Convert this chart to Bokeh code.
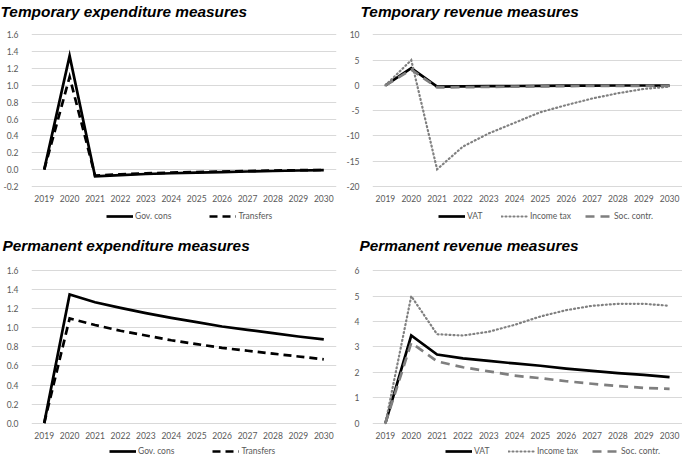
from bokeh.plotting import figure
from bokeh.layouts import gridplot
from bokeh.models import Legend, LegendItem, FixedTicker, NumeralTickFormatter, Range1d
from bokeh.embed import file_html
from bokeh.resources import INLINE

years = [2019, 2020, 2021, 2022, 2023, 2024, 2025, 2026, 2027, 2028, 2029, 2030]

# Temporary expenditure measures
temp_gov_cons = [0.0, 1.35, -0.08, -0.065, -0.052, -0.043, -0.036, -0.03, -0.022, -0.016, -0.01, -0.006]
temp_transfers = [0.0, 1.10, -0.07, -0.055, -0.045, -0.035, -0.028, -0.022, -0.016, -0.011, -0.007, -0.004]

# Temporary revenue measures
temp_vat = [0.0, 3.4, -0.25, -0.2, -0.15, -0.12, -0.08, -0.05, -0.03, -0.02, -0.02, -0.03]
temp_income_tax = [0.0, 5.0, -16.6, -12.1, -9.5, -7.4, -5.3, -3.9, -2.6, -1.55, -0.7, -0.25]
temp_soc_contr = [0.0, 3.1, -0.4, -0.35, -0.3, -0.25, -0.2, -0.15, -0.1, -0.08, -0.08, -0.1]

# Permanent expenditure measures
perm_gov_cons = [0.0, 1.35, 1.27, 1.21, 1.155, 1.105, 1.06, 1.015, 0.98, 0.945, 0.91, 0.88]
perm_transfers = [0.0, 1.10, 1.03, 0.97, 0.92, 0.87, 0.83, 0.79, 0.76, 0.73, 0.70, 0.67]

# Permanent revenue measures
perm_vat = [0.0, 3.45, 2.7, 2.55, 2.45, 2.35, 2.26, 2.15, 2.06, 1.97, 1.9, 1.81]
perm_income_tax = [0.0, 5.0, 3.5, 3.45, 3.6, 3.87, 4.2, 4.45, 4.62, 4.7, 4.7, 4.62]
perm_soc_contr = [0.0, 3.16, 2.43, 2.2, 2.04, 1.87, 1.77, 1.65, 1.55, 1.46, 1.39, 1.35]

titles = ["Temporary expenditure measures", "Temporary revenue measures",
          "Permanent expenditure measures", "Permanent revenue measures"]
exp_labels = ["Gov. cons", "Transfers"]
rev_labels = ["VAT", "Income tax", "Soc. contr."]

W, H = 341, 228
GRAY_TXT = "#595959"
TICK_FONT = "Lato"

STYLES = {
    "solid": dict(line_color="black", line_width=2.7),
    "dash": dict(line_color="black", line_width=2.7, line_dash="8 5"),
    "dot": dict(line_color="#808080", line_width=2.2, line_dash="1 3", line_cap="round"),
    "graydash": dict(line_color="#7f7f7f", line_width=2.7, line_dash="9 6"),
}


def make_panel(title, series, labels, styles, yticks, fmt, top,
               frame_l, frame_r, pix_top, pix_bot, title_x, leg_x, leg_y, leg_spacing):
    vt, vb = yticks[-1], yticks[0]
    k = (pix_bot - pix_top) / (vt - vb)
    y_end = vt + (pix_top - top) / k
    y_start = vb - (H - pix_bot) / k

    p = figure(width=W, height=H, output_backend="svg", toolbar_location=None,
               x_range=Range1d(2018.5, 2030.5), y_range=Range1d(y_start, y_end),
               min_border_left=frame_l, min_border_right=W - frame_r,
               min_border_top=top, min_border_bottom=0, title=title)
    p.title.text_font = "Liberation Sans"
    p.title.text_font_style = "bold italic"
    p.title.text_font_size = "15.4px"
    p.title.text_color = "black"
    p.title.align = "left"
    p.title.offset = title_x - frame_l
    p.title.standoff = 0
    p.outline_line_color = None

    p.xaxis.ticker = FixedTicker(ticks=years)
    p.xaxis.fixed_location = vb
    p.xgrid.visible = False
    p.yaxis.ticker = FixedTicker(ticks=yticks)
    p.ygrid.ticker = FixedTicker(ticks=yticks)
    p.yaxis.formatter = NumeralTickFormatter(format=fmt)
    p.ygrid.grid_line_color = "#d9d9d9"
    p.ygrid.grid_line_width = 1

    for ax in (p.xaxis, p.yaxis):
        ax.axis_line_color = None
        ax.major_tick_line_color = None
        ax.minor_tick_line_color = None
        ax.major_label_text_color = GRAY_TXT
        ax.major_label_text_font = TICK_FONT
        ax.major_label_text_font_size = "8.5px"
    p.xaxis.major_label_standoff = 3
    p.yaxis.major_label_standoff = 7

    items = []
    for vals, lab, st in zip(series, labels, styles):
        r = p.line(years, vals, line_join="miter", **STYLES[st])
        items.append(LegendItem(label=lab, renderers=[r]))

    leg = Legend(items=items, orientation="horizontal", location=(leg_x, leg_y),
                 border_line_color=None, background_fill_alpha=0,
                 label_text_font=TICK_FONT, label_text_font_size="8.5px",
                 label_text_color=GRAY_TXT, glyph_width=27, glyph_height=10,
                 label_height=10, label_standoff=2, spacing=leg_spacing,
                 padding=0, margin=0)
    p.add_layout(leg)
    return p


s = 0.983
p1 = make_panel(titles[0], [temp_gov_cons, temp_transfers], exp_labels, ["solid", "dash"],
                [-0.2, 0.0, 0.2, 0.4, 0.6, 0.8, 1.0, 1.2, 1.4, 1.6], "0.0", 18,
                28, 336, 34 * s, 189 * s, -3, 75, 7, 38)
p2 = make_panel(titles[1], [temp_vat, temp_income_tax, temp_soc_contr], rev_labels,
                ["solid", "dot", "graydash"], [-20, -15, -10, -5, 0, 5, 10], "0", 18,
                31, 341, 34 * s, 189 * s, 19, 66, 7, 14)
p3 = make_panel(titles[2], [perm_gov_cons, perm_transfers], exp_labels, ["solid", "dash"],
                [0.0, 0.2, 0.4, 0.6, 0.8, 1.0, 1.2, 1.4, 1.6], "0.0", 25,
                25, 339, 43 * s, 198 * s, -4, 78, 0, 38)
p4 = make_panel(titles[3], [perm_vat, perm_income_tax, perm_soc_contr], rev_labels,
                ["solid", "dot", "graydash"], [0, 1, 2, 3, 4, 5, 6], "0", 25,
                24, 341, 43 * s, 198 * s, 11, 73, 0, 14)

grid = gridplot([[p1, p2], [p3, p4]], toolbar_location=None)

open("out.html", "w").write(file_html(grid, INLINE))
